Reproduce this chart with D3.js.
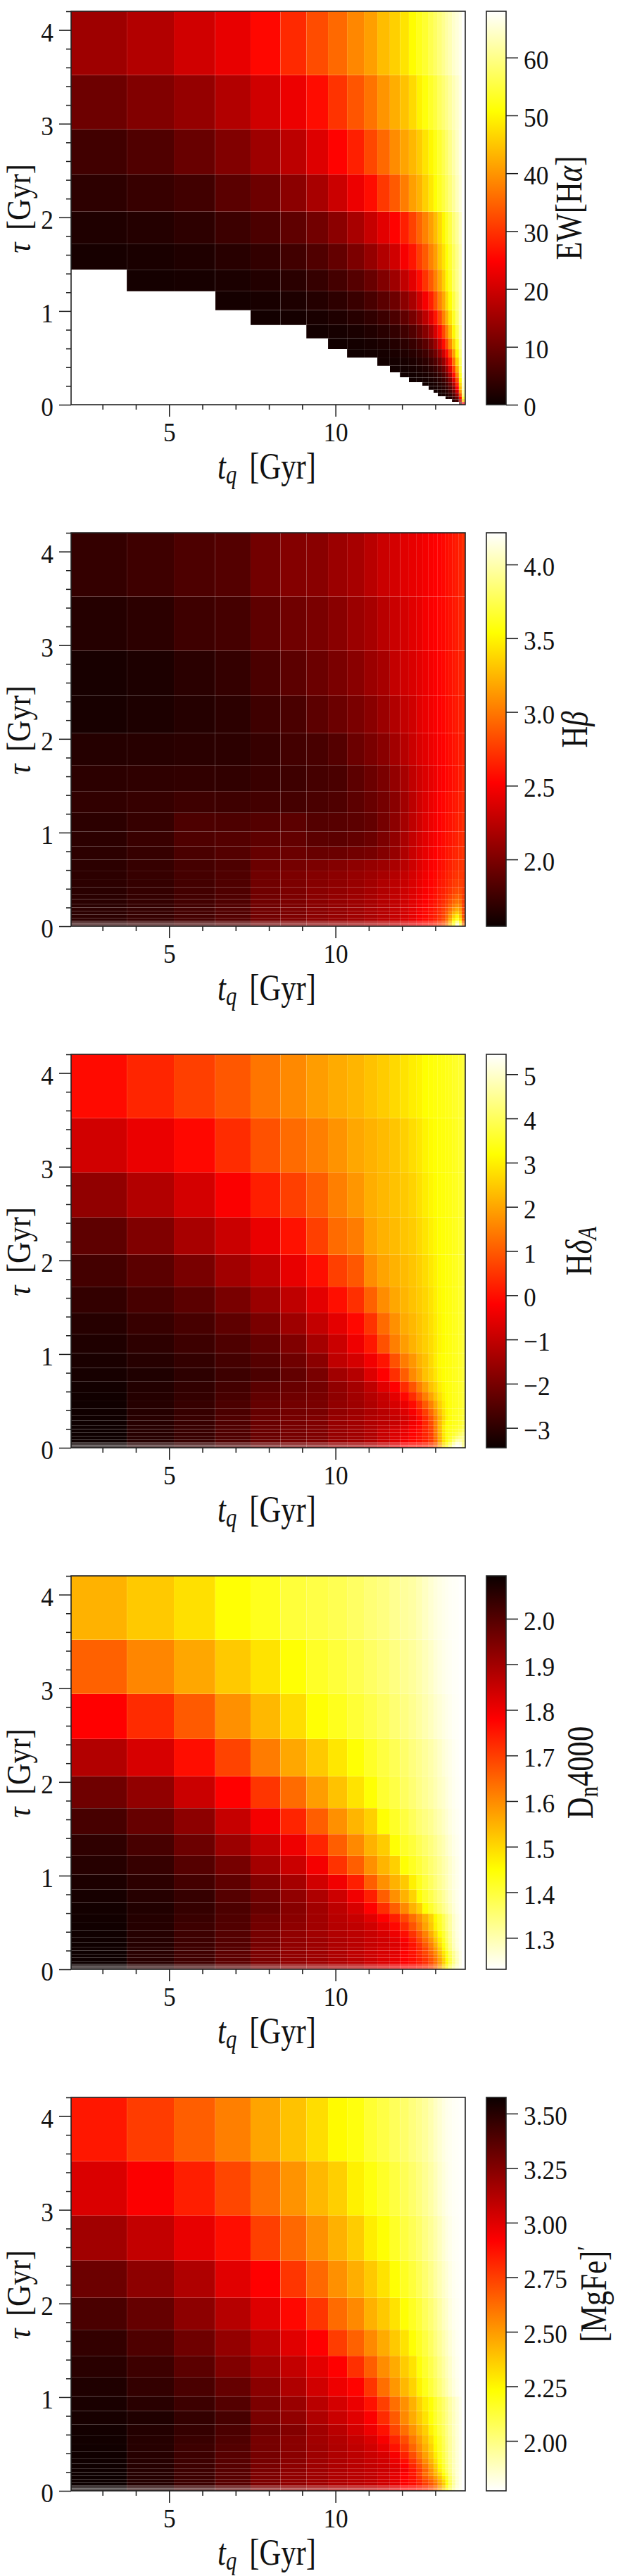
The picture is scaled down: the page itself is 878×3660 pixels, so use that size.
<!DOCTYPE html>
<html>
<head>
<meta charset="utf-8">
<script src="https://d3js.org/d3.v7.min.js"></script>
<style>
  html, body { margin: 0; padding: 0; background: #fff; }
  svg { display: block; }
  text { font-family: "Liberation Serif", serif; fill: #111; }
</style>
</head>
<body>
<div id="chart"></div>
<script>
const _ = null;

// Cell edges of the (t_q, tau) model grid, in Gyr.
const tqEdges = [2.055,3.73,5.15,6.39,7.44,8.34,9.13,9.78,10.35,10.86,11.26,11.63,11.94,12.2,12.43,12.62,12.79,12.94,13.07,13.2,13.3,13.4,13.5,13.6,13.7,13.8,13.9];
const tauEdges = [4.2,3.52,2.94,2.46,2.06,1.72,1.44,1.21,1.01,0.85,0.71,0.59,0.5,0.415,0.345,0.29,0.24,0.2,0.16,0.125,0.09,0.06,0.03,0];
// Finer tau steps of the grid close to tau = 0, only seen as mesh lines.
const tauFine = [0.05,0.042,0.036,0.03,0.025,0.02,0.016,0.012,0.008,0.004];

// EW[Halpha]; rows run from the largest tau down, columns from the smallest t_q.
const ewHalpha = [
[15,17,20,22.5,25.5,29,32.5,35.5,38.5,41,44,46,48,50.5,52.5,54,56,57.5,59,60.5,62,63,64.5,65.5,66.5,68],
[10,12,14,17,20,23,26,30,33.5,36.5,40,42.5,44.5,47,49.5,51.5,53.5,55,57,58.5,60,61.5,63,64.5,66,68],
[5.5,7,9.5,12,15,18,21.5,25,28,32,35.5,39,41.5,43.5,45.5,48,50,52,54,56,58,60,62,64,66,68],
[3.5,4.5,5.5,8,10,13,16,19.5,23,26,30.5,34,37.5,41,43,46,48.5,51,53,55,57,59,61,63.5,65.5,68],
[2,2.5,3.5,5,6.5,8.5,10.5,13,16,19,22,25,28,31.5,35,38,41,44,47,50,53,55.5,58.5,61,64,68],
[1.2,1.5,2,3,4,5.5,7,9,11.5,14,17,20,24,27,31,34,38,41,45,48,51,54,57,60,63,68],
[_,1,1.2,1.6,2.3,3.2,4.3,5.8,7.5,9.5,12,15,18.5,22,26,30,34,38,42,46,50,53,57,60,63,68],
[_,_,_,1,1.3,1.8,2.5,3.5,4.7,6.2,8,10,13,16,20,24,28,33,38,42,47,51,55,59,63,68],
[_,_,_,_,.8,1,1.4,2,2.8,3.8,5,6.5,8.5,11,14,18,22,27,32,38,43,48,53,58,63,68],
[_,_,_,_,_,_,.8,1.1,1.5,2.1,2.9,4,5.3,7,9.5,12.5,16,21,26,32,38,44,50,56,62,68],
[_,_,_,_,_,_,_,.7,.9,1.2,1.7,2.4,3.3,4.5,6,8,11,15,20,26,32,39,46,53,61,68],
[_,_,_,_,_,_,_,_,.6,.8,1,1.5,2,2.8,3.8,5.2,7.5,10.5,14.5,20,26,33,41,50,59,68],
[_,_,_,_,_,_,_,_,_,_,.7,.9,1.2,1.7,2.4,3.4,5,7,10,14,20,27,36,46,57,68],
[_,_,_,_,_,_,_,_,_,_,_,.6,.8,1.1,1.5,2.1,3.2,4.6,6.8,10,15,22,31,42,55,68],
[_,_,_,_,_,_,_,_,_,_,_,_,.6,.7,1,1.4,2.1,3.1,4.6,7,11,17,26,38,53,67],
[_,_,_,_,_,_,_,_,_,_,_,_,_,.5,.7,1,1.4,2.1,3.2,5,8,13,21,33,50,66],
[_,_,_,_,_,_,_,_,_,_,_,_,_,_,_,.6,1,1.5,2.3,3.6,6,10,17,29,47,65],
[_,_,_,_,_,_,_,_,_,_,_,_,_,_,_,_,.7,1,1.6,2.6,4.3,7.5,13,25,44,64],
[_,_,_,_,_,_,_,_,_,_,_,_,_,_,_,_,_,.7,1.1,1.8,3,5.5,10,20,40,62],
[_,_,_,_,_,_,_,_,_,_,_,_,_,_,_,_,_,_,.8,1.2,2,3.7,7,15,34,60],
[_,_,_,_,_,_,_,_,_,_,_,_,_,_,_,_,_,_,_,_,1.3,2.4,4.6,10,26,55],
[_,_,_,_,_,_,_,_,_,_,_,_,_,_,_,_,_,_,_,_,_,_,2.6,6,17,45],
[_,_,_,_,_,_,_,_,_,_,_,_,_,_,_,_,_,_,_,_,_,_,_,_,7,25]
];

// Hbeta index.
const hBeta = [
[1.71,1.75,1.81,1.84,1.96,2.03,2.05,2.12,2.17,2.24,2.31,2.35,2.4,2.43,2.45,2.48,2.5,2.52,2.53,2.55,2.57,2.59,2.61,2.63,2.66,2.7],
[1.65,1.68,1.75,1.78,1.88,1.95,1.99,2.05,2.12,2.17,2.24,2.31,2.35,2.4,2.43,2.48,2.5,2.52,2.54,2.55,2.57,2.59,2.61,2.63,2.66,2.7],
[1.6,1.62,1.67,1.71,1.8,1.87,1.93,1.99,2.05,2.12,2.17,2.28,2.33,2.37,2.41,2.45,2.48,2.51,2.53,2.55,2.57,2.59,2.61,2.63,2.65,2.68],
[1.6,1.62,1.65,1.68,1.75,1.8,1.87,1.93,1.99,2.05,2.12,2.21,2.28,2.33,2.4,2.44,2.47,2.5,2.52,2.54,2.56,2.58,2.6,2.62,2.64,2.67],
[1.65,1.66,1.67,1.68,1.72,1.77,1.79,1.84,1.93,1.99,2.05,2.15,2.23,2.31,2.37,2.41,2.45,2.48,2.51,2.53,2.55,2.57,2.59,2.61,2.63,2.66],
[1.68,1.69,1.7,1.7,1.73,1.75,1.78,1.8,1.87,1.93,1.99,2.09,2.17,2.27,2.33,2.38,2.42,2.46,2.5,2.52,2.54,2.56,2.58,2.6,2.63,2.68],
[1.7,1.72,1.75,1.75,1.77,1.78,1.8,1.82,1.87,1.92,1.97,2.05,2.15,2.25,2.33,2.39,2.44,2.48,2.52,2.54,2.56,2.58,2.6,2.62,2.65,2.68],
[1.68,1.72,1.81,1.81,1.84,1.87,1.84,1.85,1.87,1.9,1.97,2.06,2.16,2.26,2.33,2.4,2.45,2.49,2.52,2.55,2.57,2.59,2.61,2.64,2.66,2.7],
[1.68,1.73,1.82,1.84,1.88,1.9,1.87,1.87,1.9,1.93,2,2.08,2.18,2.28,2.35,2.41,2.46,2.5,2.53,2.56,2.58,2.6,2.62,2.65,2.68,2.7],
[1.68,1.72,1.8,1.84,1.91,1.93,1.92,1.93,1.96,1.98,2.03,2.1,2.2,2.3,2.37,2.43,2.48,2.52,2.55,2.57,2.6,2.62,2.65,2.67,2.7,2.72],
[1.68,1.72,1.78,1.81,1.93,1.97,2,2.03,2.07,2.1,2.13,2.18,2.24,2.32,2.39,2.45,2.5,2.53,2.56,2.59,2.62,2.65,2.68,2.7,2.72,2.73],
[1.68,1.72,1.78,1.82,1.95,2,2.03,2.06,2.1,2.13,2.17,2.22,2.28,2.35,2.41,2.47,2.52,2.55,2.58,2.61,2.64,2.67,2.7,2.73,2.74,2.73],
[1.68,1.71,1.77,1.82,1.95,2,2.04,2.07,2.11,2.15,2.2,2.25,2.3,2.37,2.43,2.49,2.53,2.56,2.6,2.63,2.66,2.7,2.74,2.77,2.77,2.74],
[1.67,1.71,1.77,1.82,1.95,2,2.05,2.08,2.12,2.16,2.21,2.26,2.32,2.38,2.44,2.5,2.54,2.58,2.62,2.65,2.69,2.73,2.78,2.82,2.82,2.75],
[1.67,1.71,1.77,1.82,1.95,2,2.05,2.09,2.13,2.17,2.22,2.27,2.33,2.39,2.45,2.51,2.55,2.59,2.63,2.67,2.72,2.78,2.84,2.9,2.88,2.76],
[1.67,1.71,1.77,1.82,1.95,2,2.05,2.09,2.13,2.17,2.22,2.27,2.33,2.4,2.46,2.52,2.56,2.6,2.65,2.7,2.76,2.84,2.92,2.98,2.95,2.77],
[1.67,1.71,1.77,1.83,1.95,2,2.05,2.09,2.13,2.17,2.22,2.27,2.34,2.4,2.47,2.53,2.57,2.62,2.67,2.73,2.8,2.9,3,3.08,3.03,2.78],
[1.68,1.71,1.77,1.83,1.95,2,2.05,2.09,2.13,2.18,2.22,2.28,2.34,2.41,2.48,2.54,2.58,2.63,2.69,2.76,2.85,2.96,3.1,3.2,3.12,2.8],
[1.68,1.72,1.78,1.83,1.96,2,2.05,2.09,2.14,2.18,2.23,2.28,2.35,2.42,2.49,2.55,2.59,2.64,2.7,2.78,2.9,3.05,3.22,3.32,3.2,2.82],
[1.68,1.72,1.78,1.84,1.96,2.01,2.06,2.1,2.14,2.18,2.23,2.29,2.35,2.42,2.5,2.55,2.6,2.65,2.72,2.8,2.94,3.12,3.34,3.48,3.3,2.85],
[1.68,1.72,1.78,1.84,1.96,2.01,2.06,2.1,2.14,2.19,2.24,2.29,2.36,2.43,2.5,2.56,2.6,2.66,2.73,2.82,2.98,3.2,3.45,3.62,3.4,2.9],
[1.69,1.73,1.79,1.85,1.97,2.02,2.07,2.11,2.15,2.19,2.24,2.3,2.36,2.43,2.5,2.56,2.6,2.66,2.74,2.84,3,3.25,3.55,3.85,3.55,2.95],
[1.69,1.73,1.79,1.85,1.97,2.02,2.07,2.11,2.15,2.2,2.25,2.3,2.37,2.44,2.5,2.56,2.6,2.66,2.74,2.85,3.02,3.3,3.6,4.1,3.7,3]
];

// HdeltaA index.
const hDeltaA = [
[-.07,.29,.64,.96,1.36,1.62,1.89,2.07,2.2,2.38,2.51,2.69,2.82,2.96,3.05,3.2,3.25,3.3,3.32,3.36,3.4,3.44,3.5,3.55,3.6,3.7],
[-.82,-.47,-.11,.38,.87,1.22,1.49,1.76,2.02,2.16,2.29,2.42,2.56,2.74,2.87,3.05,3.15,3.22,3.26,3.3,3.33,3.37,3.42,3.5,3.56,3.7],
[-1.67,-1.22,-.78,-.25,.2,.64,1.04,1.49,1.8,2.11,2.25,2.38,2.47,2.6,2.78,2.95,3.08,3.17,3.23,3.28,3.32,3.37,3.42,3.48,3.55,3.7],
[-2.34,-1.89,-1.36,-.91,-.47,.02,.64,1.22,1.45,1.98,2.16,2.29,2.42,2.51,2.69,2.85,3,3.12,3.2,3.26,3.3,3.35,3.4,3.47,3.55,3.7],
[-2.69,-2.38,-1.98,-1.45,-1.09,-.51,-.02,.64,.96,1.67,1.98,2.16,2.29,2.42,2.56,2.72,2.9,3.05,3.16,3.23,3.29,3.34,3.4,3.47,3.55,3.7],
[-2.92,-2.65,-2.38,-1.98,-1.54,-1.05,-.56,-.02,.42,1.09,1.67,2.02,2.2,2.38,2.51,2.65,2.82,3,3.13,3.21,3.28,3.33,3.4,3.47,3.55,3.7],
[-3.09,-2.87,-2.65,-2.34,-1.98,-1.49,-1,-.56,-.11,.47,1.22,1.71,2.07,2.25,2.42,2.58,2.76,2.95,3.1,3.2,3.27,3.33,3.4,3.47,3.55,3.7],
[-3.18,-3,-2.78,-2.56,-2.29,-1.89,-1.4,-.91,-.42,.11,.87,1.49,1.89,2.16,2.38,2.55,2.72,2.92,3.08,3.18,3.26,3.33,3.4,3.47,3.55,3.7],
[-3.25,-3.09,-2.92,-2.69,-2.47,-2.12,-1.76,-1.05,-.78,-.38,.07,.87,1.45,1.8,2.16,2.38,2.69,2.96,3.15,3.22,3.28,3.33,3.4,3.47,3.55,3.7],
[-3.29,-3.18,-3,-2.78,-2.6,-2.29,-1.98,-1.45,-1.18,-.65,-.2,.42,1.04,1.62,1.98,2.38,2.6,2.87,3.1,3.2,3.27,3.33,3.4,3.47,3.55,3.7],
[-3.35,-3.15,-2.95,-2.7,-2.4,-2.2,-2.05,-1.67,-1.4,-1.05,-.6,-.2,.38,.91,1.49,1.93,2.38,2.65,2.96,3.12,3.24,3.32,3.4,3.47,3.55,3.7],
[-3.37,-3.12,-2.92,-2.65,-2.3,-2.12,-2,-1.7,-1.45,-1.2,-.96,-.56,-.11,.38,.96,1.49,1.98,2.42,2.78,3.05,3.2,3.31,3.4,3.47,3.55,3.7],
[-3.38,-3.1,-2.88,-2.6,-2.25,-2.07,-1.98,-1.67,-1.49,-1.27,-1,-.75,-.47,-.07,.42,1,1.53,2.07,2.56,2.91,3.15,3.3,3.4,3.47,3.55,3.7],
[-3.39,-3.1,-2.88,-2.6,-2.25,-2.07,-1.98,-1.67,-1.49,-1.3,-1.15,-.9,-.65,-.3,.12,.62,1.2,1.8,2.35,2.8,3.1,3.28,3.4,3.47,3.55,3.7],
[-3.4,-3.08,-2.85,-2.55,-2.2,-2.03,-1.9,-1.6,-1.45,-1.25,-1.15,-1,-.8,-.48,-.1,.38,.92,1.55,2.15,2.7,3.06,3.26,3.4,3.48,3.56,3.75],
[-3.4,-3.08,-2.85,-2.55,-2.2,-2.03,-1.9,-1.6,-1.45,-1.25,-1.1,-.95,-.7,-.38,-.15,.3,.8,1.55,2.25,2.8,3.2,3.3,3.4,3.48,3.58,3.8],
[-3.41,-3.08,-2.85,-2.55,-2.2,-2.03,-1.9,-1.6,-1.45,-1.25,-1.05,-.85,-.62,-.3,-.1,.32,.72,1.5,2.25,2.95,3.25,3.38,3.45,3.55,3.66,3.9],
[-3.41,-3.08,-2.85,-2.55,-2.2,-2.03,-1.9,-1.6,-1.45,-1.25,-.95,-.7,-.5,-.2,-.05,.29,.64,1.45,2.2,2.9,3.25,3.4,3.5,3.62,3.8,4.05],
[-3.41,-3.08,-2.85,-2.55,-2.2,-2.03,-1.9,-1.6,-1.45,-1.25,-.95,-.68,-.47,-.18,-.02,.28,.62,1.4,2.15,2.88,3.28,3.45,3.6,3.85,4.1,4.3],
[-3.41,-3.08,-2.85,-2.55,-2.2,-2.03,-1.9,-1.6,-1.45,-1.25,-.95,-.66,-.42,-.15,0,.26,.6,1.3,2.1,2.85,3.27,3.55,3.85,4.2,4.4,4.5],
[-3.41,-3.08,-2.85,-2.55,-2.2,-2.03,-1.9,-1.6,-1.45,-1.25,-.95,-.64,-.35,-.1,.02,.24,.58,1.2,2.05,2.82,3.28,3.7,4.2,4.7,4.7,4.4],
[-3.41,-3.08,-2.85,-2.55,-2.2,-2.03,-1.9,-1.6,-1.45,-1.25,-.95,-.6,-.28,-.05,.02,.22,.56,1.1,2,2.8,3.3,3.9,4.6,5.1,5,4.3],
[-3.41,-3.08,-2.85,-2.55,-2.2,-2.03,-1.9,-1.6,-1.45,-1.25,-.95,-.6,-.2,.02,.02,.2,.55,1,1.9,2.8,3.3,4.1,5,5.4,5.3,4.2]
];

// Dn4000 break strength.
const dn4000 = [
[1.55,1.52,1.49,1.447,1.425,1.4,1.39,1.38,1.365,1.35,1.34,1.326,1.317,1.31,1.296,1.283,1.27,1.26,1.253,1.248,1.244,1.24,1.238,1.236,1.233,1.232],
[1.654,1.606,1.563,1.52,1.486,1.447,1.417,1.4,1.382,1.365,1.352,1.339,1.326,1.317,1.304,1.291,1.278,1.265,1.257,1.25,1.245,1.241,1.238,1.236,1.233,1.232],
[1.779,1.723,1.663,1.593,1.542,1.494,1.447,1.425,1.404,1.386,1.369,1.352,1.339,1.326,1.313,1.3,1.287,1.274,1.265,1.257,1.25,1.245,1.24,1.237,1.234,1.232],
[1.878,1.831,1.762,1.693,1.619,1.563,1.52,1.481,1.447,1.417,1.395,1.378,1.36,1.343,1.33,1.317,1.304,1.291,1.278,1.265,1.257,1.25,1.243,1.238,1.234,1.232],
[1.965,1.921,1.848,1.779,1.71,1.641,1.576,1.529,1.486,1.447,1.408,1.391,1.369,1.352,1.335,1.322,1.309,1.296,1.283,1.274,1.261,1.252,1.245,1.239,1.235,1.232],
[2.016,1.977,1.926,1.852,1.792,1.732,1.658,1.593,1.546,1.511,1.447,1.417,1.395,1.373,1.352,1.339,1.326,1.309,1.296,1.283,1.27,1.257,1.248,1.241,1.236,1.232],
[2.047,2.016,1.969,1.908,1.857,1.8,1.732,1.658,1.602,1.55,1.516,1.447,1.417,1.4,1.378,1.36,1.343,1.326,1.309,1.296,1.278,1.265,1.253,1.245,1.238,1.232],
[2.059,2.038,1.999,1.956,1.896,1.848,1.792,1.714,1.658,1.593,1.546,1.511,1.447,1.421,1.4,1.378,1.356,1.339,1.322,1.304,1.291,1.274,1.26,1.248,1.24,1.232],
[2.072,2.051,2.021,1.986,1.94,1.895,1.839,1.796,1.74,1.658,1.593,1.55,1.52,1.468,1.425,1.395,1.369,1.347,1.326,1.309,1.291,1.274,1.259,1.248,1.24,1.232],
[2.078,2.059,2.038,1.999,1.965,1.921,1.883,1.844,1.796,1.74,1.658,1.593,1.55,1.507,1.447,1.412,1.386,1.36,1.339,1.317,1.296,1.278,1.261,1.248,1.24,1.232],
[2.084,2.065,2.04,2.01,1.977,1.934,1.9,1.865,1.831,1.779,1.719,1.658,1.602,1.55,1.511,1.447,1.412,1.382,1.356,1.33,1.309,1.287,1.266,1.25,1.24,1.232],
[2.085,2.062,2.035,2.006,1.965,1.93,1.9,1.87,1.85,1.818,1.779,1.74,1.688,1.637,1.593,1.55,1.507,1.455,1.417,1.378,1.343,1.313,1.278,1.257,1.244,1.232],
[2.086,2.06,2.03,2.003,1.96,1.925,1.9,1.875,1.86,1.84,1.809,1.77,1.723,1.671,1.619,1.568,1.52,1.464,1.421,1.382,1.343,1.313,1.278,1.257,1.244,1.232],
[2.087,2.06,2.03,2,1.956,1.921,1.9,1.88,1.865,1.85,1.831,1.801,1.762,1.714,1.663,1.611,1.555,1.499,1.447,1.404,1.36,1.322,1.283,1.257,1.244,1.232],
[2.088,2.06,2.03,2,1.956,1.921,1.905,1.883,1.868,1.85,1.838,1.815,1.782,1.74,1.688,1.637,1.585,1.524,1.473,1.421,1.369,1.326,1.287,1.261,1.244,1.232],
[2.089,2.06,2.03,2,1.956,1.921,1.905,1.883,1.868,1.852,1.84,1.825,1.795,1.757,1.714,1.663,1.611,1.55,1.49,1.438,1.386,1.335,1.291,1.261,1.244,1.232],
[2.089,2.06,2.03,2,1.95,1.921,1.906,1.883,1.87,1.85,1.835,1.82,1.79,1.76,1.73,1.688,1.632,1.576,1.516,1.455,1.395,1.343,1.296,1.266,1.244,1.232],
[2.09,2.055,2.025,1.99,1.95,1.921,1.906,1.883,1.861,1.844,1.831,1.818,1.779,1.757,1.723,1.688,1.645,1.593,1.537,1.481,1.429,1.369,1.322,1.283,1.253,1.232],
[2.09,2.055,2.025,1.99,1.95,1.921,1.906,1.883,1.861,1.844,1.826,1.814,1.779,1.762,1.732,1.701,1.663,1.611,1.555,1.494,1.434,1.378,1.326,1.283,1.253,1.232],
[2.09,2.055,2.025,1.99,1.95,1.921,1.906,1.883,1.865,1.844,1.826,1.809,1.779,1.762,1.74,1.71,1.671,1.624,1.568,1.507,1.447,1.386,1.33,1.287,1.253,1.232],
[2.09,2.055,2.025,1.99,1.95,1.921,1.906,1.883,1.865,1.844,1.826,1.805,1.779,1.762,1.744,1.719,1.68,1.632,1.576,1.516,1.455,1.391,1.335,1.287,1.253,1.232],
[2.09,2.055,2.025,1.99,1.95,1.921,1.906,1.883,1.87,1.839,1.822,1.801,1.775,1.766,1.749,1.723,1.688,1.641,1.58,1.507,1.455,1.386,1.326,1.283,1.253,1.232],
[2.09,2.055,2.025,1.99,1.95,1.921,1.906,1.883,1.87,1.839,1.822,1.801,1.775,1.766,1.749,1.732,1.697,1.645,1.576,1.507,1.455,1.378,1.317,1.274,1.248,1.232]
];

// [MgFe]' index.
const mgFe = [
[2.853,2.754,2.663,2.573,2.474,2.393,2.321,2.24,2.204,2.14,2.105,2.068,2.041,2.005,1.978,1.951,1.915,1.879,1.852,1.825,1.807,1.798,1.789,1.784,1.778,1.775],
[3.015,2.925,2.835,2.727,2.618,2.519,2.42,2.357,2.267,2.204,2.159,2.114,2.077,2.041,2.005,1.969,1.933,1.897,1.861,1.834,1.812,1.798,1.789,1.784,1.778,1.775],
[3.168,3.078,2.979,2.88,2.745,2.636,2.528,2.438,2.366,2.276,2.222,2.159,2.114,2.077,2.041,1.996,1.96,1.924,1.888,1.852,1.825,1.807,1.793,1.785,1.779,1.775],
[3.313,3.222,3.132,2.997,2.916,2.772,2.636,2.528,2.447,2.375,2.303,2.222,2.168,2.123,2.077,2.032,1.987,1.942,1.906,1.87,1.843,1.816,1.798,1.787,1.78,1.775],
[3.403,3.331,3.222,3.114,3.006,2.898,2.772,2.627,2.546,2.438,2.375,2.303,2.222,2.168,2.123,2.068,2.023,1.978,1.933,1.888,1.861,1.825,1.803,1.79,1.781,1.775],
[3.466,3.394,3.304,3.204,3.105,2.997,2.916,2.754,2.654,2.546,2.456,2.375,2.303,2.222,2.168,2.114,2.059,2.005,1.96,1.915,1.879,1.843,1.816,1.795,1.783,1.775],
[3.493,3.439,3.358,3.258,3.168,3.078,2.988,2.916,2.79,2.663,2.537,2.456,2.366,2.303,2.213,2.15,2.095,2.041,1.987,1.942,1.897,1.861,1.825,1.8,1.785,1.775],
[3.52,3.466,3.403,3.331,3.231,3.132,3.042,2.961,2.907,2.772,2.618,2.51,2.42,2.348,2.258,2.186,2.123,2.068,2.014,1.96,1.915,1.87,1.834,1.805,1.787,1.775],
[3.534,3.493,3.439,3.376,3.27,3.19,3.105,3.033,2.97,2.871,2.745,2.618,2.528,2.438,2.348,2.276,2.222,2.15,2.095,2.041,1.987,1.933,1.888,1.843,1.807,1.771],
[3.542,3.52,3.466,3.412,3.276,3.213,3.132,3.06,2.997,2.925,2.799,2.673,2.546,2.456,2.375,2.303,2.222,2.15,2.095,2.041,1.987,1.933,1.888,1.843,1.807,1.771],
[3.552,3.51,3.46,3.4,3.304,3.25,3.168,3.105,3.033,2.961,2.871,2.727,2.618,2.519,2.429,2.357,2.258,2.186,2.114,2.06,1.996,1.942,1.888,1.843,1.807,1.771],
[3.556,3.505,3.45,3.39,3.285,3.231,3.168,3.123,3.069,3.015,2.934,2.817,2.709,2.591,2.492,2.402,2.312,2.222,2.15,2.078,2.005,1.951,1.897,1.843,1.807,1.771],
[3.558,3.5,3.44,3.38,3.285,3.231,3.177,3.132,3.087,3.042,2.979,2.871,2.763,2.645,2.537,2.438,2.348,2.24,2.159,2.087,2.014,1.951,1.897,1.843,1.807,1.771],
[3.56,3.5,3.44,3.37,3.285,3.231,3.177,3.132,3.096,3.06,3.024,2.934,2.826,2.709,2.591,2.483,2.384,2.276,2.177,2.096,2.023,1.951,1.897,1.843,1.807,1.771],
[3.561,3.5,3.44,3.37,3.285,3.231,3.177,3.136,3.102,3.069,3.042,2.97,2.88,2.772,2.654,2.537,2.429,2.312,2.204,2.114,2.032,1.96,1.897,1.843,1.807,1.771],
[3.563,3.5,3.44,3.37,3.276,3.222,3.177,3.136,3.105,3.078,3.051,2.997,2.916,2.817,2.709,2.591,2.474,2.357,2.24,2.14,2.05,1.969,1.897,1.843,1.807,1.771],
[3.563,3.5,3.44,3.37,3.276,3.222,3.177,3.136,3.105,3.084,3.06,3.015,2.95,2.862,2.763,2.645,2.519,2.393,2.267,2.159,2.059,1.978,1.897,1.843,1.807,1.771],
[3.565,3.502,3.439,3.367,3.267,3.213,3.174,3.132,3.105,3.084,3.042,2.988,2.916,2.853,2.745,2.618,2.528,2.42,2.33,2.222,2.114,2.005,1.915,1.843,1.807,1.771],
[3.565,3.502,3.439,3.367,3.267,3.213,3.174,3.132,3.105,3.084,3.042,2.988,2.916,2.87,2.78,2.67,2.59,2.49,2.39,2.28,2.16,2.03,1.93,1.85,1.807,1.771],
[3.565,3.502,3.439,3.367,3.267,3.213,3.174,3.132,3.105,3.084,3.042,2.988,2.916,2.875,2.81,2.72,2.65,2.55,2.44,2.33,2.2,2.05,1.94,1.85,1.807,1.771],
[3.565,3.502,3.439,3.367,3.267,3.213,3.174,3.132,3.105,3.084,3.042,2.988,2.916,2.88,2.83,2.75,2.68,2.59,2.47,2.37,2.22,2.07,1.945,1.85,1.807,1.771],
[3.565,3.502,3.439,3.367,3.267,3.213,3.174,3.132,3.105,3.084,3.042,2.988,2.916,2.885,2.84,2.78,2.71,2.62,2.49,2.37,2.23,2.08,1.95,1.85,1.807,1.771],
[3.565,3.5,3.435,3.36,3.26,3.21,3.17,3.13,3.105,3.084,3.042,2.988,2.916,2.889,2.853,2.799,2.727,2.618,2.492,2.348,2.24,2.096,1.951,1.843,1.807,1.771]
];

// Colour-bar ticks of each panel.
const ewTicks = [0,10,20,30,40,50,60];
const hBetaTicks = [2,2.5,3,3.5,4];
const hDeltaTicks = [-3,-2,-1,0,1,2,3,4,5];
const dnTicks = [1.3,1.4,1.5,1.6,1.7,1.8,1.9,2];
const mgFeTicks = [2,2.25,2.5,2.75,3,3.25,3.5];

// Axis ticks shared by all panels.
const tqMajor = [5,10];
const tqMinor = [3,4,6,7,8,9,11,12,13];
const tauMajor = [0,1,2,3,4];
const tauMinor = [0.2,0.4,0.6,0.8,1.2,1.4,1.6,1.8,2.2,2.4,2.6,2.8,3.2,3.4,3.6,3.8,4.2];

// Opacity of the faint mesh lines left between neighbouring cells.
const colSeam = [0,.13,.03,.22,.03,.26,.26,.07,.13,.07,.07,.11,.22,.07,.15,.07,.15,.07,.15,.07,.15,.07,.15,.07,.15,.07];
const rowSeam = [0,.24,.24,.24,.24,.18,.18,.18,.28,.24,.28,.08,.04,.24,.2,.28,.2,.32,.24,.28,.24,.24,.24];
const fineSeam = .22;

const panels = [
  { values: ewHalpha, domain: [0, 68], reversed: false, ticks: ewTicks, fmt: d3.format("d"), labelX: 826,
    label: [{ t: "EW[H" }, { t: "α", i: true }, { t: "]" }] },
  { values: hBeta, domain: [1.547, 4.215], reversed: false, ticks: hBetaTicks, fmt: d3.format(".1f"), labelX: 834,
    label: [{ t: "H" }, { t: "β", i: true }] },
  { values: hDeltaA, domain: [-3.45, 5.45], reversed: false, ticks: hDeltaTicks, fmt: d => (d < 0 ? "\u2212" + (-d) : String(d)), labelX: 840,
    label: [{ t: "H" }, { t: "δ", i: true }, { t: "A", sub: true, i: true }] },
  { values: dn4000, domain: [1.231, 2.094], reversed: true, ticks: dnTicks, fmt: d3.format(".1f"), labelX: 842,
    label: [{ t: "D" }, { t: "n", sub: true }, { t: "4000" }] },
  { values: mgFe, domain: [1.771, 3.574], reversed: true, ticks: mgFeTicks, fmt: d3.format(".2f"), labelX: 861,
    label: [{ t: "[MgFe]" }, { t: "\u2032", sup: true }] }
];

// Layout of one panel; panels repeat down the page.
const width = 878, height = 3660;
const plotLeft = 101, plotRight = 661, plotHeight = 559, panelTop = 16, panelStep = 741;
const barLeft = 691, barRight = 719;
const majorLen = 17, minorLen = 7;
const tickFont = 38, tickSqueeze = 0.93;
const labelFont = 52, labelSqueeze = 0.82;
const sideFont = 48, sideSqueeze = 0.88;

// The "hot" colour map, as piecewise-linear RGB.
const hotStops = [0, 0.365079, 0.746032, 1];
const hot = d3.scaleLinear()
  .domain(hotStops)
  .range(["#0b0000", "#ff0000", "#ffff00", "#ffffff"])
  .clamp(true);

const svg = d3.select("#chart").append("svg").attr("width", width).attr("height", height);
const defs = svg.append("defs");

// Writes a label of mixed italic/roman runs with sub- and superscripts.
function richText(sel, parts) {
  let shift = 0;
  parts.forEach(p => {
    const target = p.sub ? 0.14 : p.sup ? -0.28 : 0;
    const size = (p.sub || p.sup) ? 0.72 : 1;
    const base = +sel.attr("font-size");
    const ts = sel.append("tspan").text(p.t)
      .attr("font-size", base * size)
      .attr("font-style", p.i ? "italic" : "normal")
      .attr("dy", (target - shift) * base);
    if (p.dx) ts.attr("dx", p.dx);
    shift = target;
  });
}

function styleAxis(g) {
  g.select(".domain").remove();
  g.selectAll(".tick line").attr("stroke", "#1a1a1a").attr("stroke-width", 1.5);
}

panels.forEach((panel, index) => {
  const top = panelTop + index * panelStep;
  const bottom = top + plotHeight;
  const g = svg.append("g");

  const x = d3.scaleLinear().domain([tqEdges[0], tqEdges[tqEdges.length - 1]]).range([plotLeft, plotRight]);
  const y = d3.scaleLinear().domain([0, tauEdges[0]]).range([bottom, top]);
  const toUnit = d3.scaleLinear().domain(panel.domain).range(panel.reversed ? [1, 0] : [0, 1]);
  const colour = v => hot(toUnit(v));

  // Heat-map cells; missing values stay blank.
  const cells = [];
  panel.values.forEach((row, r) => row.forEach((v, c) => {
    if (v !== null) cells.push({ r, c, v });
  }));
  g.append("g").selectAll("rect").data(cells).join("rect")
    .attr("shape-rendering", "crispEdges")
    .attr("x", d => x(tqEdges[d.c]))
    .attr("y", d => y(tauEdges[d.r]))
    .attr("width", d => x(tqEdges[d.c + 1]) - x(tqEdges[d.c]))
    .attr("height", d => y(tauEdges[d.r + 1]) - y(tauEdges[d.r]))
    .attr("fill", d => colour(d.v));

  // Mesh lines between cells, only where the cells hold values.
  const firstCol = row => row.findIndex(v => v !== null);
  const mesh = g.append("g").attr("stroke", "#fff").attr("shape-rendering", "crispEdges");
  d3.range(1, tauEdges.length - 1).forEach(r => {
    mesh.append("line")
      .attr("x1", x(tqEdges[firstCol(panel.values[r - 1])])).attr("x2", plotRight)
      .attr("y1", y(tauEdges[r])).attr("y2", y(tauEdges[r]))
      .attr("stroke-opacity", rowSeam[r]);
  });
  d3.range(1, tqEdges.length - 1).forEach(c => {
    const lowest = d3.max(panel.values.map((row, r) =>
      (row[c] !== null || row[c - 1] !== null) ? r : -1));
    mesh.append("line")
      .attr("x1", x(tqEdges[c])).attr("x2", x(tqEdges[c]))
      .attr("y1", top).attr("y2", y(tauEdges[lowest + 1]))
      .attr("stroke-opacity", colSeam[c]);
  });
  const lastRow = panel.values[panel.values.length - 1];
  mesh.selectAll(".fine").data(tauFine).join("line")
    .attr("class", "fine")
    .attr("shape-rendering", "auto")
    .attr("x1", x(tqEdges[firstCol(lastRow)])).attr("x2", plotRight)
    .attr("y1", d => y(d)).attr("y2", d => y(d))
    .attr("stroke-opacity", fineSeam);

  // Axes: majors carry labels, minors are bare.
  const xMajor = g.append("g").attr("transform", `translate(0,${bottom})`)
    .call(d3.axisBottom(x).tickValues(tqMajor).tickSize(majorLen).tickFormat(d3.format("d")));
  const xMinor = g.append("g").attr("transform", `translate(0,${bottom})`)
    .call(d3.axisBottom(x).tickValues(tqMinor).tickSize(minorLen).tickFormat(""));
  const yMajor = g.append("g").attr("transform", `translate(${plotLeft},0)`)
    .call(d3.axisLeft(y).tickValues(tauMajor).tickSize(majorLen).tickFormat(d3.format("d")));
  const yMinor = g.append("g").attr("transform", `translate(${plotLeft},0)`)
    .call(d3.axisLeft(y).tickValues(tauMinor).tickSize(minorLen).tickFormat(""));
  [xMajor, xMinor, yMajor, yMinor].forEach(styleAxis);

  xMajor.selectAll("text")
    .attr("font-size", tickFont).attr("font-family", "Liberation Serif")
    .attr("y", 52).attr("dy", 0)
    .attr("transform", `scale(${tickSqueeze},1)`);
  yMajor.selectAll("text")
    .attr("font-size", tickFont).attr("font-family", "Liberation Serif")
    .attr("x", -25 / tickSqueeze).attr("dy", 15.5)
    .attr("transform", `scale(${tickSqueeze},1)`);

  // Colour bar: the gradient runs bottom to top along the value axis.
  const barY = d3.scaleLinear().domain(panel.domain).range([bottom, top]);
  const gradId = "bar-" + index;
  const grad = defs.append("linearGradient").attr("id", gradId)
    .attr("x1", 0).attr("x2", 0).attr("y1", 1).attr("y2", 0);
  const stopAt = panel.reversed ? hotStops.map(t => 1 - t).reverse() : hotStops;
  stopAt.forEach(t => grad.append("stop").attr("offset", t)
    .attr("stop-color", hot(panel.reversed ? 1 - t : t)));
  g.append("rect").attr("x", barLeft).attr("y", top)
    .attr("width", barRight - barLeft).attr("height", plotHeight)
    .attr("fill", `url(#${gradId})`);

  const barAxis = g.append("g").attr("transform", `translate(${barRight},0)`)
    .call(d3.axisRight(barY).tickValues(panel.ticks).tickSize(majorLen).tickFormat(panel.fmt));
  styleAxis(barAxis);
  barAxis.selectAll("text")
    .attr("font-size", tickFont).attr("font-family", "Liberation Serif")
    .attr("x", 25 / tickSqueeze).attr("dy", 15.5)
    .attr("transform", `scale(${tickSqueeze},1)`);

  // Frames of the plot and the colour bar.
  [[plotLeft, plotRight], [barLeft, barRight]].forEach(([a, b]) => {
    g.append("rect").attr("x", a).attr("y", top).attr("width", b - a).attr("height", plotHeight)
      .attr("fill", "none").attr("stroke", "#222").attr("stroke-width", 1.6);
  });

  // Axis titles.
  const xTitle = g.append("text")
    .attr("font-size", labelFont).attr("text-anchor", "middle")
    .attr("transform", `translate(${(plotLeft + plotRight) / 2 - 2},${bottom + 105}) scale(${labelSqueeze},1)`);
  richText(xTitle, [{ t: "t", i: true }, { t: "q", i: true, sub: true }, { t: "[Gyr]", dx: 22 }]);

  const yTitle = g.append("text")
    .attr("font-size", sideFont).attr("text-anchor", "middle")
    .attr("transform", `translate(43,${(top + bottom) / 2 + 1}) rotate(-90) scale(${sideSqueeze},1)`);
  richText(yTitle, [{ t: "τ", i: true }, { t: "[Gyr]", dx: 20 }]);

  const barTitle = g.append("text")
    .attr("font-size", labelFont).attr("text-anchor", "middle")
    .attr("transform", `translate(${panel.labelX},${(top + bottom) / 2}) rotate(-90) scale(${labelSqueeze},1)`);
  richText(barTitle, panel.label);
});
</script>
</body>
</html>
